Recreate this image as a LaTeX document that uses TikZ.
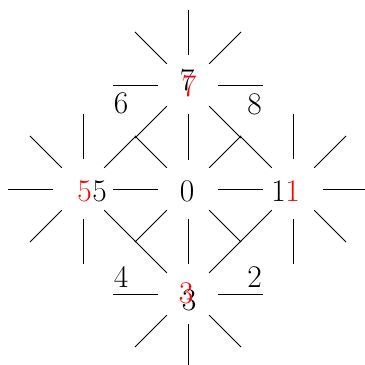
\documentclass[tikz,border=0pt]{standalone}
\begin{document}
\begin{tikzpicture}[x=1pt,y=-1pt,
  spoke/.style={line width=0.95pt,black},
  lbl/.style={inner sep=0pt,anchor=center,font=\fontsize{31.5}{36}\selectfont},
  redlbl/.style={lbl,text=red}]
\useasboundingbox (0,0) rectangle (365,365);
\clip (0,0) rectangle (365,365);
\coordinate (n0) at (188,189);
\coordinate (n7) at (188,85);
\coordinate (n3) at (188,294);
\coordinate (n5) at (83,189);
\coordinate (n1) at (293,189);
\foreach \n in {n0,n7,n3,n5,n1}
  \foreach \a in {0,45,...,315}
    \draw[spoke] (\n) ++(\a:30) -- ++(\a:45);
% black labels
\node[lbl] (b0) at (187,191.5) {0};
\node[lbl] (b7) at (187,80) {7};
\node[lbl] (b3) at (189,300.5) {3};
\node[lbl] (b5) at (99.5,191.5) {5};
\node[lbl] (b1) at (278.5,191.5) {1};
\node[lbl] (b6) at (121,103) {6};
\node[lbl] (b8) at (254.5,104) {8};
\node[lbl] (b4) at (121,277) {4};
\node[lbl] (b2) at (254.5,277) {2};
% red labels
\node[redlbl] (r7) at (189,86.5) {7};
\node[redlbl] (r3) at (186,293) {3};
\node[redlbl] (r5) at (84.5,191.5) {5};
\node[redlbl] (r1) at (292.5,191.5) {1};
\end{tikzpicture}
\end{document}
